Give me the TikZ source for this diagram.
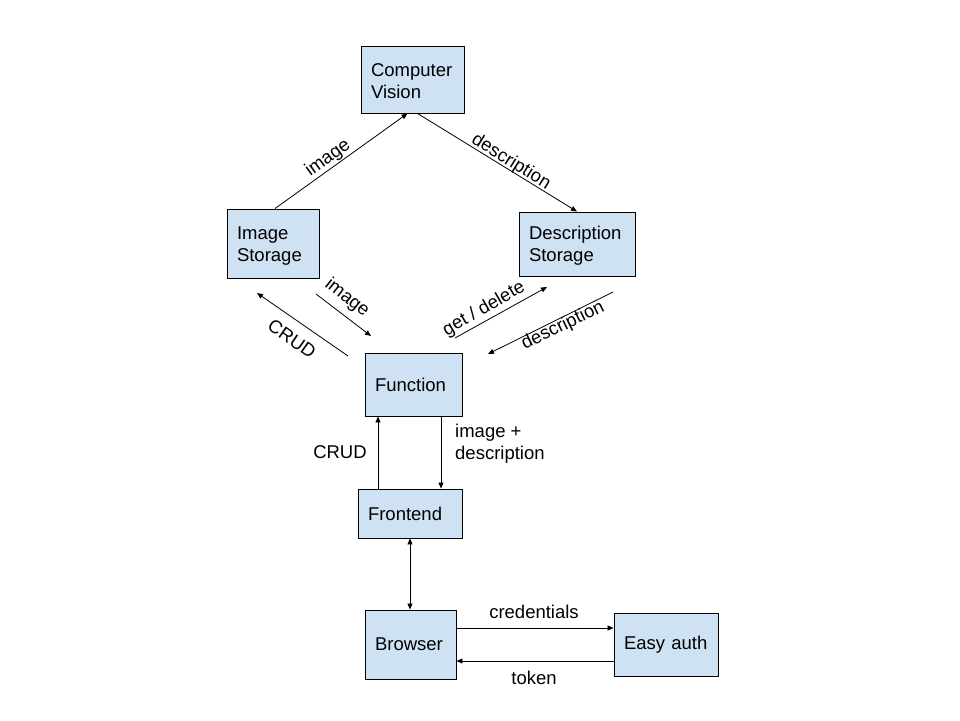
\documentclass[tikz,border=0pt]{standalone}
\usepackage{fontspec}
\setmainfont{Liberation Sans}
\usetikzlibrary{arrows.meta,calc}
\definecolor{boxfill}{HTML}{CFE2F3}
\tikzset{
  box/.style={draw=black, line width=0.9pt, fill=boxfill, rectangle, inner xsep=10pt, inner ysep=0pt, align=left, font=\fontsize{18.5}{22}\selectfont},
  lbl/.style={inner sep=0pt, font=\fontsize{18.5}{22}\selectfont},
  arr/.style={line width=0.8pt, -{Triangle[length=6pt,width=5pt]}},
  darr/.style={line width=0.8pt, {Triangle[length=6pt,width=5pt]}-{Triangle[length=6pt,width=5pt]}}
}
\begin{document}
\begin{tikzpicture}[x=1pt,y=-1pt]
\useasboundingbox (0,0) rectangle (960,720);
% boxes
\node[box, text width=83pt, minimum height=67pt] (cv) at (412.5,79.5) {\rule{0pt}{17pt}Computer\\Vision};
\node[box, text width=72pt, minimum height=69pt] (is) at (273,243.5) {\rule{0pt}{17pt}Image\\Storage};
\node[box, text width=96pt, minimum height=64pt] (ds) at (577,244) {\rule{0pt}{17pt}Description\\Storage};
\node[box, text width=77pt, minimum height=63pt] (fn) at (413.5,384.5) {Function};
\node[box, text width=84pt, minimum height=49pt] (fe) at (410,513.5) {Frontend};
\node[box, text width=71pt, minimum height=69pt] (br) at (410.5,644.5) {Browser};
\node[box, text width=84pt, minimum height=63pt] (ea) at (666,644.5) {Easy auth};
% top connectors
\draw[arr] ([xshift=2pt]is.north) -- ([xshift=-5pt]cv.south);
\draw[arr] ([xshift=5pt]cv.south) -- (ds.north);
\node[lbl, rotate=36] (limg1) at (328,158) {image};
\node[lbl, rotate=-32] (ldesc1) at (511,162) {description};
% free arrows
\coordinate (c1a) at (348,356); \coordinate (c1b) at (257,293);
\coordinate (c2a) at (316,294); \coordinate (c2b) at (371,336);
\coordinate (c3a) at (455,338); \coordinate (c3b) at (547,287);
\coordinate (c4a) at (613,292); \coordinate (c4b) at (488,354);
\draw[arr] (c1a) -- (c1b);
\draw[arr] (c2a) -- (c2b);
\draw[arr] (c3a) -- (c3b);
\draw[arr] (c4a) -- (c4b);
\node[lbl, rotate=-35] (lcrud1) at (292,339) {CRUD};
\node[lbl, rotate=-38] (limg2) at (347,298) {image};
\node[lbl, rotate=30] (lget) at (484,309) {get / delete};
\node[lbl, rotate=26] (ldesc2) at (563,326) {description};
% function-frontend
\draw[arr] ([xshift=-32pt]fe.north) -- ([xshift=-32pt]fe.north |- fn.south);
\draw[arr] ([xshift=27.5pt]fn.south) -- ([xshift=27.5pt]fn.south |- fe.north);
\node[lbl] (lcrud2) at (340,452) {CRUD};
\node[lbl, anchor=north west, align=left] (limgdesc) at (455,424) {image +\\description};
% frontend-browser
\draw[darr] (fe.south) -- (fe.south |- br.north);
% browser-easy auth
\draw[arr] ([yshift=16.5pt]br.east) -- ([yshift=16.5pt]br.east -| ea.west);
\draw[arr] ([yshift=-16.5pt]br.east -| ea.west) -- ([yshift=-16.5pt]br.east);
\node[lbl] (lcred) at (534,612) {credentials};
\node[lbl] (ltok) at (534,678) {token};
\end{tikzpicture}
\end{document}
